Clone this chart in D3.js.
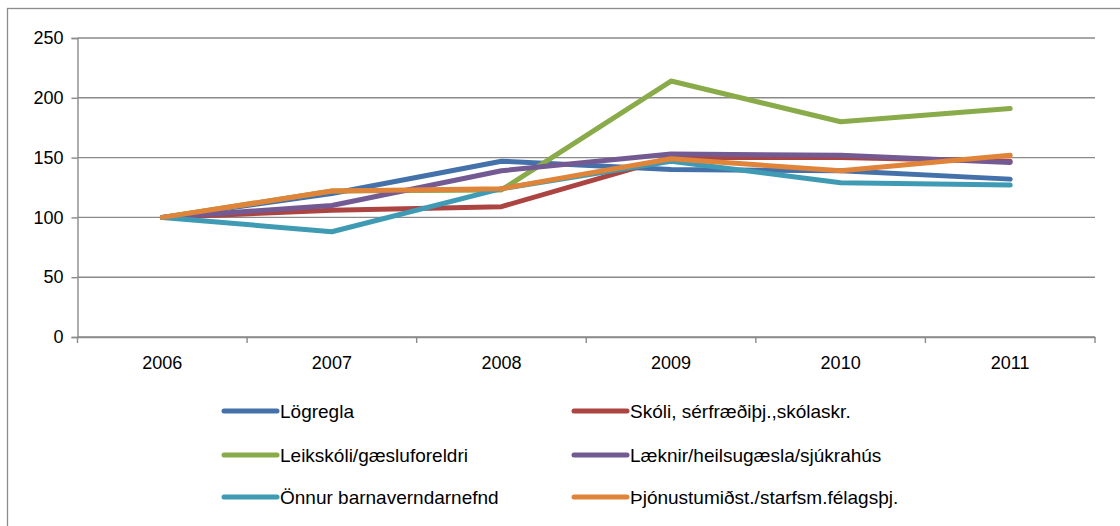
<!DOCTYPE html>
<html>
<head>
<meta charset="utf-8">
<script src="https://cdn.jsdelivr.net/npm/d3@7"></script>
<style>
  body { margin: 0; background: #fff; }
  svg { display: block; font-family: "Liberation Sans", Arial, sans-serif; }
</style>
</head>
<body>
<div id="chart"></div>
<script>
const years = ["2006", "2007", "2008", "2009", "2010", "2011"]
const yTicks = [0, 50, 100, 150, 200, 250]

const seriesNames = [
    "Lögregla",
    "Skóli, sérfræðiþj.,skólaskr.",
    "Leikskóli/gæsluforeldri",
    "Læknir/heilsugæsla/sjúkrahús",
    "Önnur barnaverndarnefnd",
    "Þjónustumiðst./starfsm.félagsþj."
]
const seriesColors = ["#4471aa", "#ac4441", "#8aab4a", "#745a93", "#3f9bb3", "#e0843a"]

const logregla = [100, 120, 147, 140, 139, 132]
const skoli = [100, 106, 109, 150, 150, 147]
const leikskoli = [100, 122, 123, 214, 180, 191]
const laeknir = [100, 110, 139, 153, 152, 146]
const onnur = [100, 88, 124, 147, 129, 127]
const thjonusta = [100, 122, 124, 149, 139, 152]

const seriesValues = [logregla, skoli, leikskoli, laeknir, onnur, thjonusta]

const width = 1120
const height = 526
const margin = { left: 77.5, right: 25, top: 38, bottom: 189 }

const svg = d3.select("#chart").append("svg")
    .attr("width", width)
    .attr("height", height)

// outer frame
svg.append("rect")
    .attr("x", 7.5).attr("y", 8.5)
    .attr("width", width + 20).attr("height", height + 20)
    .attr("fill", "none").attr("stroke", "#8c8c8c").attr("stroke-width", 1.3)

const x = d3.scaleBand().domain(years).range([margin.left, width - margin.right])
const y = d3.scaleLinear().domain([0, 250]).range([height - margin.bottom, margin.top])

// gridlines
svg.append("g")
    .selectAll("line")
    .data(yTicks)
    .join("line")
    .attr("x1", margin.left).attr("x2", width - margin.right)
    .attr("y1", (d) => y(d)).attr("y2", (d) => y(d))
    .attr("stroke", "#8a8a8a").attr("stroke-width", 1.4)

// y axis
const yAxis = svg.append("g")
    .attr("transform", `translate(${margin.left},0)`)
    .call(d3.axisLeft(y).tickValues(yTicks).tickSize(6).tickPadding(8))
yAxis.select(".domain").attr("stroke", "#8a8a8a").attr("stroke-width", 1.4)
yAxis.selectAll(".tick line").attr("stroke", "#8a8a8a").attr("stroke-width", 1.4)
yAxis.selectAll("text").attr("font-size", 18).attr("fill", "#000")
    .attr("font-family", "Liberation Sans, Arial, sans-serif")

// x axis with ticks at band edges
const xAxis = svg.append("g")
    .attr("transform", `translate(0,${y(0)})`)
    .call(d3.axisBottom(x).tickSize(0).tickPadding(19))
xAxis.select(".domain").attr("stroke", "#8a8a8a").attr("stroke-width", 1.4)
xAxis.selectAll("text").attr("font-size", 18).attr("fill", "#000")
    .attr("font-family", "Liberation Sans, Arial, sans-serif")

const edges = years.map((d) => x(d)).concat([x(years[years.length - 1]) + x.bandwidth()])
svg.append("g")
    .selectAll("line")
    .data(edges)
    .join("line")
    .attr("x1", (d) => d).attr("x2", (d) => d)
    .attr("y1", y(0)).attr("y2", y(0) + 6)
    .attr("stroke", "#8a8a8a").attr("stroke-width", 1.4)

// lines
const line = d3.line()
    .x((d, i) => x(years[i]) + x.bandwidth() / 2)
    .y((d) => y(d))

svg.append("g")
    .selectAll("path")
    .data(seriesValues)
    .join("path")
    .attr("d", (d) => line(d))
    .attr("fill", "none")
    .attr("stroke", (d, i) => seriesColors[i])
    .attr("stroke-width", 5)
    .attr("stroke-linecap", "round")
    .attr("stroke-linejoin", "round")

// legend, two columns x three rows
const legendX = [222, 572]
const legendY = [411, 455, 497]

const legend = svg.append("g")
    .selectAll("g")
    .data(seriesNames)
    .join("g")
    .attr("transform", (d, i) => `translate(${legendX[i % 2]},${legendY[Math.floor(i / 2)]})`)

legend.append("line")
    .attr("x1", 2).attr("x2", 55)
    .attr("stroke", (d, i) => seriesColors[i])
    .attr("stroke-width", 5)
    .attr("stroke-linecap", "round")

legend.append("text")
    .attr("x", 58)
    .attr("dy", "0.35em")
    .attr("font-size", 19)
    .text((d) => d)
</script>
</body>
</html>
